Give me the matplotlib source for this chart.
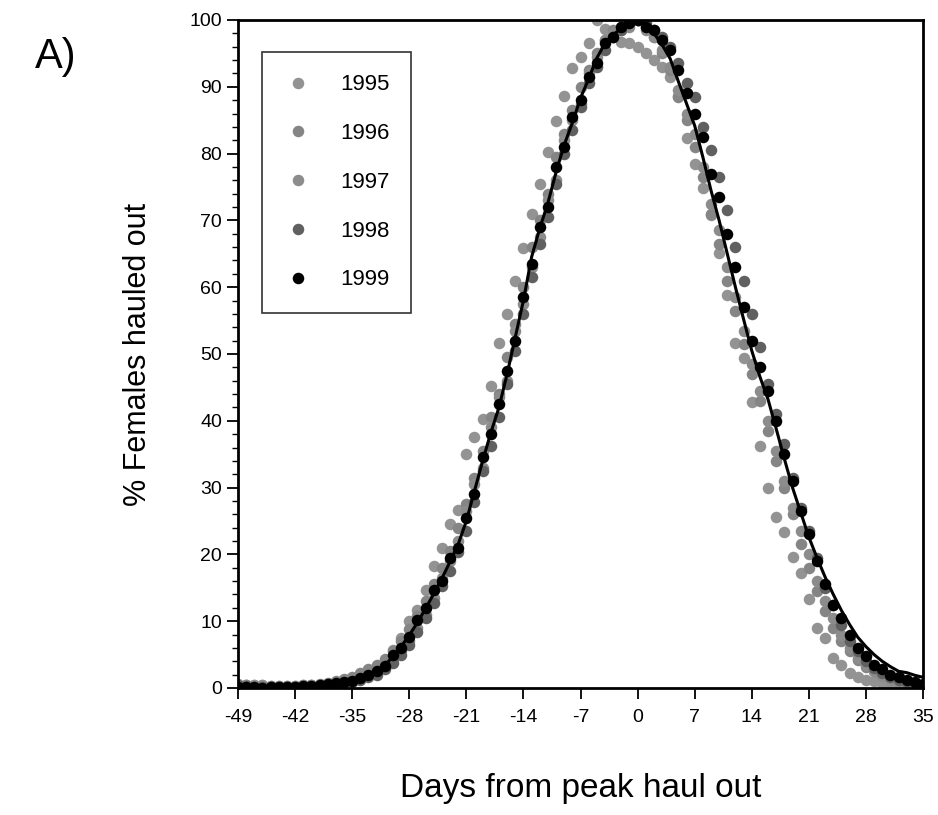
import matplotlib
matplotlib.use("Agg")
import matplotlib.pyplot as plt
from matplotlib.ticker import MultipleLocator

plt.rcParams['font.family'] = ['Liberation Sans Narrow', 'Liberation Sans', 'DejaVu Sans']
plt.rcParams['axes.unicode_minus'] = False

# days from peak haul out
days = list(range(-49, 36))

# fitted curve (solid line)
fit_line = [
    0.0, 0.0, 0.0, 0.1, 0.1, 0.1, 0.1, 0.2,
    0.25, 0.35, 0.45, 0.6, 0.8, 1.0, 1.3, 1.7,
    2.1, 2.6, 3.4, 4.7, 6.2, 7.9, 9.8, 11.9,
    14.1, 16.4, 18.9, 21.5, 25.0, 29.5, 34.0, 38.2,
    42.0, 47.0, 52.5, 58.0, 64.5, 68.8, 72.6, 77.2,
    81.3, 84.6, 88.3, 91.2, 94.3, 96.5, 97.8, 98.7,
    99.4, 100.0,
    99.3, 98.0, 96.3, 94.2, 90.8, 87.5, 84.2, 79.5,
    74.5, 70.0, 65.0, 60.0, 55.2, 50.5, 46.6, 43.2,
    38.8, 34.3, 30.0, 26.3, 22.6, 19.5, 16.6, 14.0,
    11.6, 9.5, 7.6, 6.2, 5.0, 4.0, 3.2, 2.5,
    2.3, 1.9, 1.6,
]

y1995 = [
    0.5, 0.5, 0.4, 0.4, 0.3, 0.3, 0.3, 0.3,
    0.4, 0.4, 0.5, 0.6, 0.8, 0.9, 1.2, 1.6,
    2.2, 2.9, 3.9, 5.7, 7.5, 10.0, 11.7, 14.7,
    18.2, 21.0, 24.5, 26.6, 35.0, 37.6, 40.3, 45.2,
    51.6, 56.0, 61.0, 65.9, 71.0, 75.4, 80.2, 84.9,
    88.6, 92.8, 94.5, 96.5, 100.0, 98.6, 97.5, 96.7,
    96.5, 96.0,
    95.0, 94.0, 93.0, 91.5, 88.6, 82.3, 78.4, 74.8,
    70.8, 65.1, 58.9, 51.6, 49.4, 42.8, 36.3, 30.0,
    25.6, 23.3, 19.6, 17.2, 13.3, 9.0, 7.5, 4.5,
    3.4, 2.2, 1.6, 1.2, 1.0, 0.8, 0.7, 0.6,
    0.5, 0.5, 0.4,
]

y1996 = [
    0.3, 0.4, 0.3, 0.3, 0.2, 0.2, 0.3, 0.3,
    0.4, 0.5, 0.6, 0.8, 1.0, 1.3, 1.7, 2.2,
    2.8, 3.5, 4.4, 5.5, 7.0, 8.8, 10.8, 13.0,
    15.5, 18.0, 20.5, 24.0, 27.5, 31.5, 35.5, 40.5,
    44.0, 49.5, 54.5, 60.0, 66.0, 70.0, 74.0, 79.5,
    83.0, 86.5, 90.0, 92.5, 95.0, 97.0, 98.5, 99.0,
    99.5, 100.0,
    99.0, 97.5, 95.0, 92.5, 88.5, 85.0, 81.0, 76.5,
    71.0, 66.5, 61.0, 56.5, 51.5, 47.0, 43.0, 38.5,
    34.0, 30.0, 26.0, 21.5, 18.0, 14.5, 11.5, 9.0,
    7.0, 5.5, 4.2, 3.2, 2.5, 1.9, 1.5, 1.1,
    0.8, 0.6, 0.5,
]

y1997 = [
    0.6, 0.5, 0.5, 0.4, 0.3, 0.3, 0.2, 0.2,
    0.3, 0.4, 0.4, 0.5, 0.7, 0.9, 1.2, 1.6,
    2.0, 2.4, 3.0, 4.2, 5.5, 7.0, 9.0, 11.0,
    13.5, 16.5, 19.0, 22.0, 26.5, 30.5, 33.0, 39.0,
    43.5, 46.0, 53.5, 57.5, 63.0, 67.5, 73.0, 76.0,
    82.0, 85.0, 87.5, 92.0, 94.5, 97.0, 98.0, 98.5,
    99.0, 100.0,
    98.5, 97.5, 95.5, 93.0, 89.5, 86.0, 83.0, 78.0,
    72.5, 68.5, 63.0, 58.5, 53.5, 48.5, 44.5, 40.0,
    35.5, 31.0, 27.0, 23.5, 20.0, 16.0, 13.0, 10.5,
    8.0, 6.0, 4.5, 3.5, 2.5, 1.8, 1.2, 0.9,
    0.6, 0.5, 0.4,
]

y1998 = [
    0.4, 0.3, 0.2, 0.2, 0.1, 0.1, 0.1, 0.2,
    0.2, 0.3, 0.3, 0.4, 0.5, 0.7, 0.9, 1.2,
    1.6, 2.0, 2.8, 3.8, 5.0, 6.5, 8.4, 10.5,
    12.7, 15.2, 17.5, 20.3, 23.5, 27.8, 32.5, 36.2,
    40.5, 45.5, 50.5, 56.0, 61.5, 66.5, 70.5, 75.5,
    80.0, 83.5, 87.0, 90.5, 93.0, 95.5, 97.5, 98.5,
    99.5, 100.0,
    99.5, 98.5, 97.5, 96.0, 93.5, 90.5, 88.5, 84.0,
    80.5, 76.5, 71.5, 66.0, 61.0, 56.0, 51.0, 45.5,
    41.0, 36.5, 31.5, 27.0, 23.5, 19.5, 15.0, 12.5,
    9.5, 7.0, 5.5, 4.0, 3.0, 2.2, 1.6, 1.2,
    0.9, 0.7, 0.5,
]

y1999 = [
    0.2, 0.1, 0.1, 0.0, 0.1, 0.1, 0.2, 0.2,
    0.3, 0.3, 0.5, 0.6, 0.8, 0.9, 1.1, 1.5,
    1.9, 2.5, 3.3, 4.9, 6.0, 7.6, 10.2, 12.0,
    14.6, 16.0, 19.5, 21.0, 25.5, 29.0, 34.6, 38.0,
    42.5, 47.5, 52.0, 58.5, 63.5, 69.0, 72.0, 78.0,
    81.0, 85.5, 88.0, 91.5, 93.5, 96.5, 97.5, 99.0,
    99.5, 100.0,
    99.0, 98.5, 97.0, 95.5, 92.5, 89.0, 86.0, 82.5,
    77.0, 73.5, 68.0, 63.0, 57.0, 52.0, 48.0, 44.5,
    40.0, 35.0, 31.0, 26.5, 23.0, 19.0, 15.5, 12.5,
    10.5, 8.0, 6.0, 4.8, 3.5, 2.8, 2.0, 1.6,
    1.2, 0.9, 0.6,
]

years = ['1995', '1996', '1997', '1998', '1999']
series = [y1995, y1996, y1997, y1998, y1999]
colors = ['#939393', '#858585', '#8c8c8c', '#606060', '#000000']

fig = plt.figure(figsize=(9.38, 8.15), dpi=100)
ax = fig.add_axes([238 / 938, 1 - 688 / 815, 685 / 938, 668 / 815])

for yr, vals, c in zip(years, series, colors):
    ax.plot(days, vals, 'o', ms=8.3, mfc=c, mec=c, mew=0, label=yr)

ax.plot(days, fit_line, color='black', lw=2.2)

ax.set_xlim(-49, 35)
ax.set_ylim(0, 100)
ax.xaxis.set_major_locator(MultipleLocator(7))
ax.yaxis.set_major_locator(MultipleLocator(10))
ax.yaxis.set_minor_locator(MultipleLocator(2))
ax.tick_params(axis='both', which='major', direction='out', length=8, width=1.3,
               labelsize=14)
ax.tick_params(axis='x', which='major', pad=7)
ax.tick_params(axis='y', which='minor', direction='out', length=4, width=1.0)
for s in ax.spines.values():
    s.set_linewidth(2.0)

ax.set_xlabel('Days from peak haul out', fontsize=24, labelpad=34)
ax.set_ylabel('% Females hauled out', fontsize=22, labelpad=26)

leg = ax.legend(loc='upper left', bbox_to_anchor=(0.035, 0.952), borderaxespad=0,
                fontsize=16, frameon=True, fancybox=False, labelspacing=1.25,
                handlelength=1.2, handletextpad=1.3, borderpad=1.0, numpoints=1)
leg.get_frame().set_edgecolor('black')
leg.get_frame().set_linewidth(1.2)

fig.text(0.037, 0.93, 'A)', fontsize=30, ha='left', va='center')

fig.savefig('out.png', dpi=100)
